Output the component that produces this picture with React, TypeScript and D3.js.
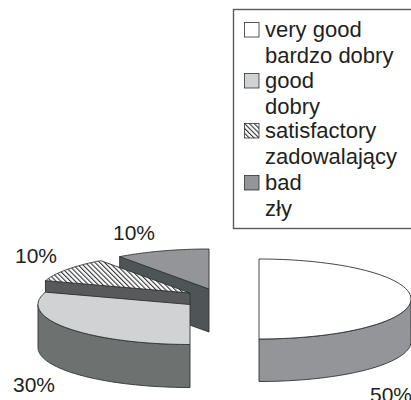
import React from "react";
import * as d3 from "d3";

const categories = ["very good", "good", "satisfactory", "bad"];
const translations = ["bardzo dobry", "dobry", "zadowalający", "zły"];
const shares = [50, 30, 10, 10];
const percentLabels = ["50%", "30%", "10%", "10%"];

const W = 411, H = 400;
const RX = 152, RY = 40;
const FONT = "'Liberation Sans', Arial, sans-serif";
const STROKE = "#2f3233";

// layout per slice (exploded pie apex, extrusion depth)
const apex = [[259, 299], [190, 304.5], [190, 293], [209, 289]];
const depth = [42.5, 43, 12, 43];
const topFill = ["#ffffff", "#d1d2d3", "url(#hatch)", "#939598"];
const rimFill = ["#939598", "#6d7271", "#58595b", "#4d5556"];
const labelPos = [[370, 402], [13, 392], [15, 263], [113, 240]];
const legendY = [37, 88, 138, 190];
const legendStep = 26;

const pie = d3.pie<number>().sort(null);
const arcs = pie(shares);

const line = d3.line<[number, number]>();

function rimPoints(i: number, a0: number, a1: number, dy: number): [number, number][] {
  const [cx, cy] = apex[i];
  const n = 60;
  return d3.range(n + 1).map((k) => {
    const a = a0 + ((a1 - a0) * k) / n;
    return [cx + RX * Math.sin(a), cy - RY * Math.cos(a) + dy] as [number, number];
  });
}

function Slice({ i }: { i: number }) {
  const { startAngle: s, endAngle: e } = arcs[i];
  const [cx, cy] = apex[i];
  const d = depth[i];
  const top = [[cx, cy] as [number, number], ...rimPoints(i, s, e, 0)];
  const topPath = line(top) + "Z";
  let side: React.ReactNode[] = [];
  if (i === 0 || i === 1) {
    // visible outer wall: the front half of the ellipse
    const a0 = i === 0 ? Math.PI / 2 - 0.02 : s;
    const a1 = i === 0 ? e : Math.PI * 1.5;
    const front = rimPoints(i, a0, a1, 0);
    const wall = [...front, ...rimPoints(i, a1, a0, d)];
    side = [<path key="w" d={line(wall) + "Z"} fill={rimFill[i]} stroke={STROKE} strokeWidth={0.9} />];
  } else {
    // cut face turned to the viewer, from rim corner to apex
    const corner = rimPoints(i, s, s, 0)[0];
    const face: [number, number][] = [corner, [cx, cy], [cx, cy + d], [corner[0], corner[1] + d]];
    side = [<path key="f" d={line(face) + "Z"} fill={rimFill[i]} stroke={STROKE} strokeWidth={0.9} />];
  }
  return (
    <g>
      {side}
      <path d={topPath} fill={topFill[i]} stroke={STROKE} strokeWidth={0.9} strokeLinejoin="round" />
    </g>
  );
}

export default function App() {
  return (
    <svg width={W} height={H} viewBox={`0 0 ${W} ${H}`} style={{ position: "absolute", left: 0, top: 0 }}>
      <defs>
        <pattern id="hatch" width={3.4} height={3.4} patternUnits="userSpaceOnUse" patternTransform="rotate(-45)">
          <rect width={3.4} height={3.4} fill="#fff" />
          <rect width={1.1} height={3.4} fill="#333" />
        </pattern>
      </defs>
      <rect width={W} height={H} fill="#fff" />

      {[3, 2, 1, 0].map((i) => (
        <Slice key={i} i={i} />
      ))}

      {percentLabels.map((t, i) => (
        <text key={t + i} x={labelPos[i][0]} y={labelPos[i][1]} fontFamily={FONT} fontSize={21} fill="#231f20">
          {t}
        </text>
      ))}

      <rect x={233.5} y={9.5} width={190} height={219} fill="#fff" stroke="#58595b" strokeWidth={1.4} />
      {categories.map((c, i) => (
        <g key={c}>
          <rect
            x={244.5}
            y={legendY[i] - 14.5}
            width={14.5}
            height={14.5}
            fill={topFill[i]}
            stroke={STROKE}
            strokeWidth={0.8}
          />
          <text x={265} y={legendY[i]} fontFamily={FONT} fontSize={22} fill="#231f20">
            {c}
          </text>
          <text x={265} y={legendY[i] + legendStep} fontFamily={FONT} fontSize={22} fill="#231f20">
            {translations[i]}
          </text>
        </g>
      ))}
    </svg>
  );
}
